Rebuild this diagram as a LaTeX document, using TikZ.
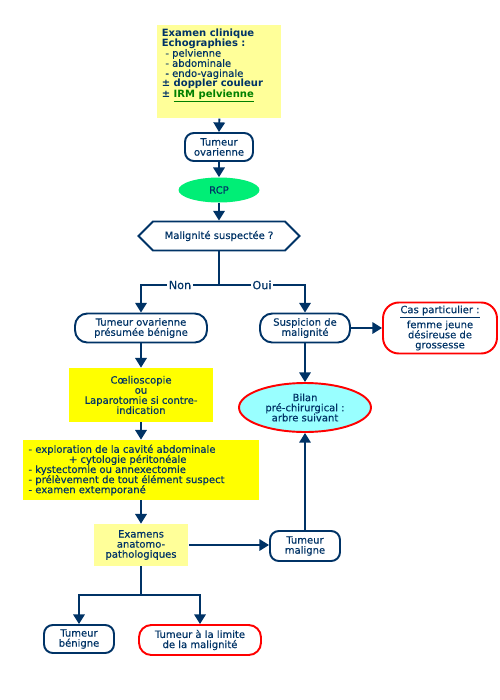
\documentclass[tikz,border=0pt]{standalone}
\usepackage{fontspec}
\setmainfont{DejaVu Sans}[FakeBold=0.35, BoldFeatures={FakeBold=0}]
\usetikzlibrary{arrows.meta,shapes.geometric,shapes.symbols}
\definecolor{navy}{RGB}{0,51,102}
\definecolor{lyellow}{RGB}{255,255,153}
\definecolor{byellow}{RGB}{255,255,0}
\definecolor{rcpgreen}{RGB}{0,238,118}
\definecolor{lcyan}{RGB}{153,255,255}
\definecolor{irmgreen}{RGB}{0,128,0}
\tikzset{
  box/.style={draw=navy, line width=1.1pt, rounded corners=5pt, align=center, inner sep=1pt, fill=white},
  redbox/.style={box, draw=red},
  ybox/.style={fill=byellow, align=center, inner sep=1pt},
  lybox/.style={fill=lyellow, align=center, inner sep=1pt},
  flow/.style={draw=navy, line width=1.1pt, -{Triangle[length=5.5pt,width=6.5pt]}},
  plain/.style={draw=navy, line width=1.1pt},
}
\begin{document}
\begin{tikzpicture}[x=0.02cm,y=-0.02cm, font=\fontsize{5.7pt}{5.75pt}\selectfont, text=navy]
\fill[white] (0,0) rectangle (500,700);
\useasboundingbox (0,0) rectangle (500,700);

\node[lybox, anchor=north west, inner sep=0pt, minimum width=2.48cm, minimum height=1.86cm] (top) at (157,25)
  {\parbox[c][1.86cm][t]{2.3cm}{\raggedright\vspace*{2pt}%
  \textbf{Examen clinique}\\
  \textbf{Echographies :}\\
  \hspace*{2pt}- pelvienne\\
  \hspace*{2pt}- abdominale\\
  \hspace*{2pt}- endo-vaginale\\
  \textbf{± doppler couleur}\\
  \textbf{± \textcolor{irmgreen}{\underline{IRM pelvienne}}}}};

\node[box, minimum width=1.36cm, minimum height=0.56cm] (tumov) at (219,147) {Tumeur\\ovarienne};
\node[ellipse, fill=rcpgreen, minimum width=1.62cm, minimum height=0.5cm, inner sep=0pt] (rcp) at (219,190) {RCP};
\node[signal, signal to=west and east, draw=navy, line width=1.1pt, fill=white, minimum width=3.22cm, minimum height=0.58cm, inner sep=1pt] (mal) at (219,236) {Malignité suspectée ?};

\coordinate (split) at (219,285);
\node[box, rounded corners=7pt, minimum width=2.64cm, minimum height=0.58cm] (ben) at (141,328) {Tumeur ovarienne\\présumée bénigne};
\node[box, rounded corners=7pt, minimum width=1.8cm, minimum height=0.58cm] (susp) at (305,328) {Suspicion de\\malignité};
\node[redbox, rounded corners=9pt, minimum width=2.28cm, minimum height=1.02cm] (cas) at (440,328) {\underline{Cas particulier :}\\femme jeune\\désireuse de\\grossesse};

\node[ybox, minimum width=2.88cm, minimum height=1.08cm] (coel) at (141,395) {Cœlioscopie\\ou\\Laparotomie si contre-\\indication};
\node[ellipse, draw=red, line width=1.1pt, fill=lcyan, minimum width=2.64cm, minimum height=0.98cm, inner sep=0pt, align=center] (bilan) at (305,407.5) {Bilan\\pré-chirurgical :\\arbre suivant};

\node[ybox, minimum width=4.66cm, minimum height=1.2cm, inner xsep=3pt] (bul) at (141,470) {\parbox{4.5cm}{\raggedright
- exploration de la cavité abdominale\\
\hspace*{23pt}+ cytologie péritonéale\\
- kystectomie ou annexectomie\\
- prélèvement de tout élément suspect\\
- examen extemporané}};

\node[lybox, minimum width=1.9cm, minimum height=0.84cm] (exam) at (141,545) {Examens\\anatomo-\\pathologiques};
\node[box, minimum width=1.4cm, minimum height=0.6cm] (malg) at (305,546) {Tumeur\\maligne};

\coordinate (split2) at (141,595);
\node[box, minimum width=1.4cm, minimum height=0.56cm] (tben) at (79,639) {Tumeur\\bénigne};
\node[redbox, rounded corners=7pt, minimum width=2.44cm, minimum height=0.6cm] (tlim) at (200,640) {Tumeur à la limite\\de la malignité};

\draw[flow] (top.south) -- (tumov.north);
\draw[flow] (tumov.south) -- (rcp.north);
\draw[flow] (rcp.south) -- (mal.north);
\draw[plain] (mal.south) -- (split);
\draw[flow] (split) -| node[pos=0.25, fill=white, inner sep=1pt, font=\fontsize{6.4pt}{7pt}\selectfont] {Non} (ben.north);
\draw[flow] (split) -| node[pos=0.25, fill=white, inner sep=1pt, font=\fontsize{6.4pt}{7pt}\selectfont] {Oui} (susp.north);
\draw[flow] (susp.east) -- (cas.west);
\draw[flow] (ben.south) -- (coel.north);
\draw[flow] (susp.south) -- (bilan.north);
\draw[flow] (coel.south) -- (bul.north);
\draw[flow] (bul.south) -- (exam.north);
\draw[flow] (exam.east) -- (exam.east -| malg.west);
\draw[flow] (malg.north) -- (bilan.south);
\draw[plain] (exam.south) -- (split2);
\draw[flow] (split2) -| (tben.north);
\draw[flow] (split2) -| (tlim.north);
\end{tikzpicture}
\end{document}
